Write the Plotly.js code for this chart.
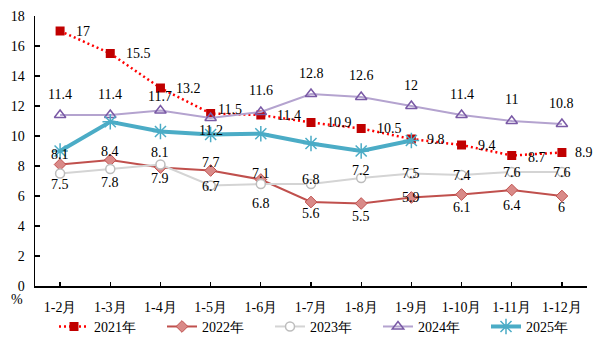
<!DOCTYPE html>
<html>
<head>
<meta charset="utf-8">
<script src="https://cdn.plot.ly/plotly-3.0.1.min.js"></script>
<style>html,body{margin:0;padding:0;background:#fff}#chart{width:600px;height:353px}</style>
</head>
<body>
<div id="chart"></div>
<script>
// ---- data ----
const categories = ['1-2月','1-3月','1-4月','1-5月','1-6月','1-7月','1-8月','1-9月','1-10月','1-11月','1-12月'];
const seriesNames = ['2021年','2022年','2023年','2024年','2025年'];
const v2021 = [17, 15.5, 13.2, 11.5, 11.4, 10.9, 10.5, 9.8, 9.4, 8.7, 8.9];
const v2022 = [8.1, 8.4, 7.9, 7.7, 7.1, 5.6, 5.5, 5.9, 6.1, 6.4, 6];
const v2023 = [7.5, 7.8, 8.1, 6.7, 6.8, 6.8, 7.2, 7.5, 7.4, 7.6, 7.6];
const v2024 = [11.4, 11.4, 11.7, 11.2, 11.6, 12.8, 12.6, 12, 11.4, 11, 10.8];
const v2025 = [9.0, 10.95, 10.3, 10.1, 10.15, 9.5, 9.0, 9.7];
const yTicks = [0, 2, 4, 6, 8, 10, 12, 14, 16, 18];

// ---- label placement (pixel offsets, style only) ----
const shift2021x = [14, 14, 14, 5, 14, 14, 14, 14, 14, 14, 11];
const shift2021y = [0, 0, 0, 4, 0, 0, 0, 0, 0, -2, 0];
const shift2022y = [10, 9, -11, 8, 6, -11, -13, 0, -13, -15, -11];
const shift2023y = [-11, -13, 12, -1, -19, 5, 8, 0, 0, 0, 0];
const shift2024y = [21, 21, 14, -12, 22, 21, 22, 21, 21, 22, 21];

const FONT = 'Liberation Serif, serif';

const traces = [
  {name: seriesNames[0], x: categories, y: v2021, mode: 'lines+markers',
   line: {color: '#FF0000', width: 2.5, dash: '2px,3px'},
   marker: {symbol: 'square', size: 9, color: '#C00000'}},
  {name: seriesNames[1], x: categories, y: v2022, mode: 'lines+markers',
   line: {color: '#C0504D', width: 2},
   marker: {symbol: 'diamond', size: 9, color: '#D98A88', line: {color: '#C0504D', width: 1}}},
  {name: seriesNames[2], x: categories, y: v2023, mode: 'lines+markers',
   line: {color: '#D4D4D4', width: 2},
   marker: {symbol: 'circle', size: 9, color: '#FFFFFF', line: {color: '#BDBDBD', width: 1.5}}},
  {name: seriesNames[3], x: categories, y: v2024, mode: 'lines+markers',
   line: {color: '#B4A3CF', width: 2},
   marker: {symbol: 'triangle-up-open', size: 10, color: '#7A5AA6', line: {color: '#7A5AA6', width: 1.5}}},
  {name: seriesNames[4], x: categories.slice(0, v2025.length), y: v2025, mode: 'lines+markers',
   line: {color: '#4BACC6', width: 4},
   marker: {symbol: 'asterisk-open', size: 13, color: '#4BACC6', line: {color: '#4BACC6', width: 1.5}}}
];

const annotations = [];
function addLabels(vals, xs, ys, xanchor) {
  vals.forEach((v, i) => {
    annotations.push({
      x: categories[i], y: v, xref: 'x', yref: 'y', text: String(v), showarrow: false,
      xanchor: xanchor, yanchor: 'middle', xshift: xs ? xs[i] : 0, yshift: ys[i],
      font: {family: FONT, size: 14, color: '#000'}
    });
  });
}
addLabels(v2021, shift2021x, shift2021y, 'left');
addLabels(v2022, null, shift2022y, 'center');
addLabels(v2023, null, shift2023y, 'center');
addLabels(v2024, null, shift2024y, 'center');
annotations.push({text: '%', xref: 'paper', yref: 'paper', x: -0.032, y: -0.05, xanchor: 'center', yanchor: 'middle',
  showarrow: false, font: {family: FONT, size: 14, color: '#000'}});

const layout = {
  width: 600, height: 353,
  margin: {l: 35, r: 13, t: 16, b: 67},
  paper_bgcolor: '#fff', plot_bgcolor: '#fff',
  font: {family: FONT, size: 14, color: '#000'},
  showlegend: true,
  legend: {orientation: 'h', xref: 'container', yref: 'container', x: 0.09, y: 0.074,
    xanchor: 'left', yanchor: 'middle', entrywidth: 63, entrywidthmode: 'pixels',
    bgcolor: 'rgba(0,0,0,0)',
    font: {family: FONT, size: 14, color: '#000'}, itemwidth: 30, traceorder: 'normal'},
  xaxis: {type: 'category', range: [-0.5, 10.5], showline: true, linecolor: '#000', linewidth: 1.5,
    ticks: 'inside', ticklen: 4, tickcolor: '#000', tickwidth: 1.2, showgrid: false, zeroline: false,
    ticklabelstandoff: 8, tickfont: {family: FONT, size: 14, color: '#000'}, fixedrange: true},
  yaxis: {range: [0, 18], tickvals: yTicks, ticktext: yTicks.map(String), showline: true, linecolor: '#000', linewidth: 1.5,
    ticks: 'inside', ticklen: 5, tickcolor: '#000', tickwidth: 1.2, showgrid: false, zeroline: false,
    ticklabelstandoff: 6, tickfont: {family: FONT, size: 14, color: '#000'}, fixedrange: true},
  annotations: annotations
};

Plotly.newPlot('chart', traces, layout, {displayModeBar: false, staticPlot: true});
</script>
</body>
</html>
